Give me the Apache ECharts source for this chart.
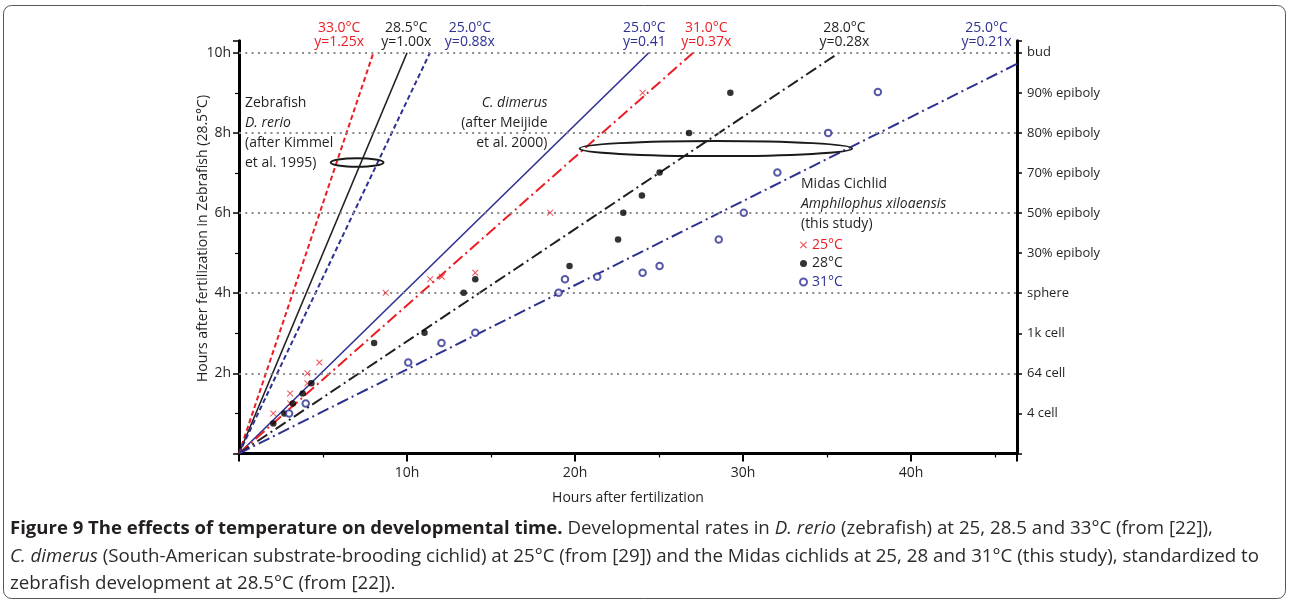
<!DOCTYPE html>
<html><head><meta charset="utf-8">
<script src="https://cdn.jsdelivr.net/npm/echarts@6.0.0/dist/echarts.min.js"></script>
<style>html,body{margin:0;padding:0;background:#fff}#c{width:1289px;height:604px}</style>
</head><body><div id="c"></div>
<script>
// ---------- data ----------
const xMax = 46.3;            // hours after fertilization (axis end)
const yMax = 10.3;            // zebrafish hours (axis end)
const xTickLabels = [10, 20, 30, 40];
const yTickLabels = [2, 4, 6, 8, 10];
const gridHours = [2, 4, 6, 8, 10];
const stageHours = [1, 2, 3, 4, 5, 6, 7, 8, 9, 10];
const stageNames = ['4 cell', '64 cell', '1k cell', 'sphere', '30% epiboly', '50% epiboly',
                    '70% epiboly', '80% epiboly', '90% epiboly', 'bud'];
const fitTemps = ['33.0°C', '28.5°C', '25.0°C', '25.0°C', '31.0°C', '28.0°C', '25.0°C'];
const fitEquations = ['y=1.25x', 'y=1.00x', 'y=0.88x', 'y=0.41', 'y=0.37x', 'y=0.28x', 'y=0.21x'];
const fitSlopes = [1.25, 1.00, 0.88, 0.41, 0.37, 0.28, 0.21];
const fitLabelX = [5.96, 9.95, 13.74, 24.12, 27.81, 36.03, 44.49];
const midasNames = ['25°C', '28°C', '31°C'];
const midas25 = [[2.04,1.00],[3.04,1.50],[3.04,1.25],[4.07,2.00],[4.07,1.75],[4.78,2.27],
  [8.73,4.01],[11.38,4.35],[12.07,4.41],[14.06,4.51],[18.52,6.01],[24.02,9.00]];
const midas28 = [[2.04,0.75],[2.70,1.00],[3.20,1.25],[3.79,1.50],[4.31,1.75],[8.04,2.76],
  [11.04,3.01],[13.37,4.01],[14.06,4.35],[19.67,4.68],[22.56,5.34],[22.87,6.01],[23.98,6.44],
  [25.03,7.01],[26.78,8.00],[29.24,9.00]];
const midas31 = [[2.98,1.00],[3.97,1.25],[10.07,2.27],[12.05,2.76],[14.06,3.01],[19.02,4.01],
  [19.40,4.35],[21.32,4.41],[24.02,4.51],[25.03,4.68],[28.55,5.34],[30.04,6.01],[32.04,7.01],
  [35.06,8.00],[38.02,9.02]];
// annotation ellipses: [centerX, centerY, radiusX(h), radiusY(h)]
const ellipseZebrafish = [7.03, 7.26, 1.57, 0.105];
const ellipseDimerus = [28.38, 7.61, 8.11, 0.19];
const captionBold = 'Figure 9 The effects of temperature on developmental time.';
const captionLine2Italic = 'C. dimerus';
const captionLine2Rest = ' (South-American substrate-brooding cichlid) at 25°C (from [29]) and the Midas cichlids at 25, 28 and 31°C (this study), standardized to';

// ---------- styles ----------
const RED = '#ed1c24', NAVY = '#2e3192', BLACK = '#231f20', FONT = 'Open Sans';
const fitColors = [RED, BLACK, NAVY, NAVY, RED, BLACK, NAVY];
const fitTypes = [[5,3], 'solid', [5,3], 'solid', [12,4,2,4], [12,4,2,4], [12,4,2,4]];
const fitWidths = [2, 1.6, 2, 1.6, 2, 2, 2];
const crossPath = 'path://M1,0L5,4L9,0L10,1L6,5L10,9L9,10L5,6L1,10L0,9L4,5L0,1Z';

const chart = echarts.init(document.getElementById('c'), null, {renderer: 'canvas'});

const lineSeries = fitSlopes.map((a, i) => {
  const xe = Math.min(10 / a, xMax);
  return {
    type: 'line', name: 'fit' + i, silent: true, symbol: 'none', z: 2,
    data: [[0, 0], [xe, a * xe]],
    lineStyle: {color: fitColors[i], type: fitTypes[i], width: fitWidths[i]},
    markLine: i === 0 ? {
      silent: true, symbol: 'none', label: {show: false},
      lineStyle: {color: '#8a8a8a', type: [2, 4.3], width: 2},
      data: gridHours.map(h => ({yAxis: h}))
    } : undefined
  };
});

const axisCommon = {
  axisLine: {show: true, onZero: false, lineStyle: {color: '#000', width: 3}},
  splitLine: {show: false},
};

chart.setOption({
  animation: false,
  backgroundColor: '#fff',
  textStyle: {fontFamily: FONT},
  grid: {left: 239, right: 272, top: 40.7, bottom: 150.5, containLabel: false},
  xAxis: Object.assign({
    type: 'value', min: 0, max: xMax, interval: 10,
    axisTick: {show: true, length: 8, lineStyle: {color: '#000', width: 2}},
    minorTick: {show: true, splitNumber: 2, length: 4, lineStyle: {color: '#000', width: 1.2}},
    axisLabel: {fontSize: 14, color: BLACK, margin: 13, fontFamily: FONT,
      formatter: v => xTickLabels.indexOf(v) >= 0 ? v + 'h' : ''},
    name: 'Hours after fertilization', nameLocation: 'middle', nameGap: 38,
    nameTextStyle: {fontSize: 14, color: BLACK, fontFamily: FONT}
  }, axisCommon),
  yAxis: [
    Object.assign({
      type: 'value', position: 'left', min: 0, max: yMax, interval: 2,
      axisTick: {show: true, length: 6, lineStyle: {color: '#000', width: 1.5}},
      minorTick: {show: true, splitNumber: 2, length: 4, lineStyle: {color: '#000', width: 1.2}},
      axisLabel: {fontSize: 14, color: BLACK, margin: 8, fontFamily: FONT,
        formatter: v => yTickLabels.indexOf(v) >= 0 ? v + 'h' : ''}
    }, axisCommon),
    Object.assign({
      type: 'value', position: 'right', min: 0, max: yMax, interval: 1,
      axisTick: {show: true, length: 5, lineStyle: {color: '#000', width: 1.5}},
      axisLabel: {fontSize: 13, color: BLACK, margin: 10, fontFamily: FONT,
        formatter: v => { const k = stageHours.indexOf(v); return k >= 0 ? stageNames[k] : ''; }}
    }, axisCommon)
  ],
  legend: {
    orient: 'vertical', left: 799, top: 238, itemWidth: 7, itemHeight: 7, itemGap: 4.5,
    padding: 0, selectedMode: false,
    textStyle: {fontSize: 14, fontFamily: FONT},
    data: [
      {name: midasNames[0], textStyle: {color: RED}},
      {name: midasNames[1], textStyle: {color: BLACK}},
      {name: midasNames[2], textStyle: {color: NAVY}}
    ]
  },
  series: lineSeries.concat([
    {type: 'scatter', name: midasNames[0], data: midas25, symbol: crossPath, symbolSize: 6.5,
     itemStyle: {color: RED}, z: 5, silent: true},
    {type: 'scatter', name: midasNames[1], data: midas28, symbol: 'circle', symbolSize: 6.5,
     itemStyle: {color: '#000'}, z: 5, silent: true},
    {type: 'scatter', name: midasNames[2], data: midas31, symbol: 'emptyCircle', symbolSize: 6.5,
     itemStyle: {color: NAVY, borderWidth: 0.9}, z: 5, silent: true}
  ])
});

// ---------- annotations ----------
const px = (x, y) => chart.convertToPixel({gridIndex: 0}, [x, y]);
const g = [];
const txt = (text, x, y, opts) => g.push({
  type: 'text', x: x, y: y, silent: true, z: 10,
  style: Object.assign({text: text, fontFamily: FONT, fontSize: 14, fill: BLACK,
    align: 'left', verticalAlign: 'middle'}, opts || {})
});

fitTemps.forEach((t, i) => {
  const cx = px(fitLabelX[i], 0)[0];
  txt(t, cx, 28.3, {align: 'center', fill: fitColors[i]});
  txt(fitEquations[i], cx, 42.3, {align: 'center', fill: fitColors[i]});
});

// Zebrafish block
txt('Zebrafish', 245, 103.3);
txt('D. rerio', 245, 122.7, {fontStyle: 'italic'});
txt('(after Kimmel', 245, 143.3);
txt('et al. 1995)', 245, 162.7);
// C. dimerus block
txt('C. dimerus', 547.5, 102.7, {align: 'right', fontStyle: 'italic'});
txt('(after Meijide', 547.5, 123.3, {align: 'right'});
txt('et al. 2000)', 547.5, 142.7, {align: 'right'});
// Midas block
txt('Midas Cichlid', 801, 184);
txt('Amphilophus xiloaensis', 801, 204, {fontStyle: 'italic'});
txt('(this study)', 801, 224);

// y axis name
g.push({type: 'text', x: 203.5, y: 238.5, rotation: Math.PI / 2, silent: true,
  style: {text: 'Hours after fertilization in Zebrafish (28.5°C)', fontFamily: FONT, fontSize: 14,
    fill: BLACK, align: 'center', verticalAlign: 'middle'}});

// ellipses
[ellipseZebrafish, ellipseDimerus].forEach(e => {
  const c = px(e[0], e[1]);
  const r = px(e[0] + e[2], e[1] + e[3]);
  g.push({type: 'ellipse', silent: true, z: 6,
    shape: {cx: c[0], cy: c[1], rx: Math.abs(r[0] - c[0]), ry: Math.abs(c[1] - r[1])},
    style: {fill: 'none', stroke: '#1a1a1a', lineWidth: 2}});
});

// caption: size the font so the lines span the same width as the reference
const CF = 'Open Sans';
const mctx = document.createElement('canvas').getContext('2d');
const mw = (font, s) => { mctx.font = font; return mctx.measureText(s).width; };
const w2 = mw('italic 17px "' + CF + '"', captionLine2Italic) + mw('17px "' + CF + '"', captionLine2Rest);
const sN = Math.max(14, Math.min(19, 17 * 1250 / w2));
const wb = mw('bold 17px "' + CF + '"', captionBold);
const sB = Math.max(14, Math.min(19, 17 * 553 / wb));
const capRich = {
  b: {fontFamily: CF, fontSize: sB, fontWeight: 'bold', fill: BLACK},
  n: {fontFamily: CF, fontSize: sN, fill: '#2b2b2b'},
  i: {fontFamily: CF, fontSize: sN, fontStyle: 'italic', fill: '#2b2b2b'}
};
const cap = (text, y) => g.push({type: 'text', x: 10, y: y, silent: true,
  style: {text: text, rich: capRich, fontFamily: CF, fontSize: sN, verticalAlign: 'middle', align: 'left'}});
cap('{b|' + captionBold + '}{n| Developmental rates in }{i|D. rerio}{n| (zebrafish) at 25, 28.5 and 33°C (from [22]),}', 529);
cap('{i|' + captionLine2Italic + '}{n|' + captionLine2Rest + '}', 557);
cap('{n|zebrafish development at 28.5°C (from [22]).}', 584);

// frame
g.push({type: 'rect', silent: true, z: 0,
  shape: {x: 3.5, y: 5.5, width: 1282, height: 593, r: 8},
  style: {fill: 'none', stroke: '#555', lineWidth: 1}});

chart.setOption({graphic: {elements: g}});
</script>
</body></html>
